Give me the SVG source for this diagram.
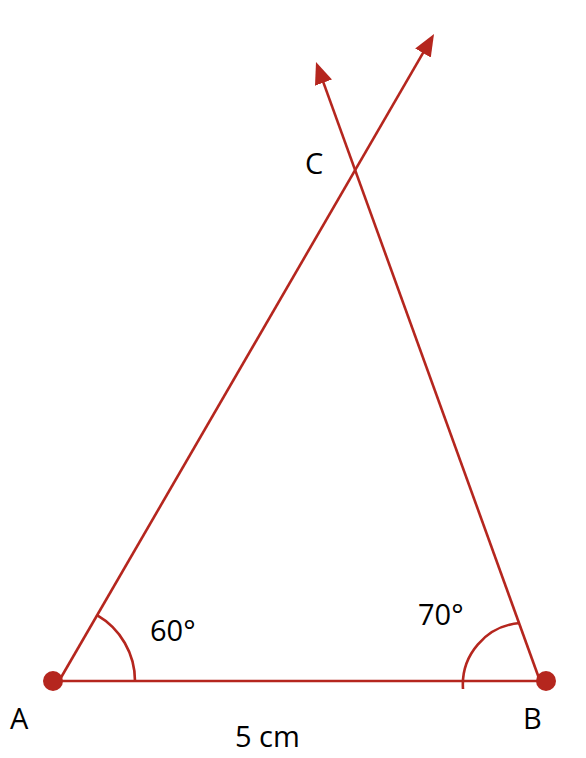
<svg xmlns="http://www.w3.org/2000/svg" width="586" height="758" viewBox="0 0 586 758">
<style>
.ln{stroke:#B5261E;stroke-width:2.6;fill:none}
.lbl{font-family:"Open Sans","Liberation Sans",sans-serif;font-size:29px;fill:#000}
.dot{fill:#B5261E}
</style>
<defs>
<marker id="arr" markerUnits="userSpaceOnUse" markerWidth="24" markerHeight="20" viewBox="0 -10 24 20" refX="12" refY="0" orient="auto">
<path d="M0,-9 L22,0 L0,9 z" fill="#B5261E"/>
</marker>
</defs>
<rect width="586" height="758" fill="#fff"/>
<g id="connectors">
<line class="ln" x1="53" y1="681" x2="546" y2="681"/>
<line class="ln" x1="59" y1="681" x2="429" y2="42.7" marker-end="url(#arr)"/>
<line class="ln" x1="540" y1="681" x2="319.4" y2="71.4" marker-end="url(#arr)"/>
<path class="ln" d="M135 681 A76 76 0 0 0 97 615.2"/>
<path class="ln" d="M463 689 A62 62 0 0 1 520 623"/>
</g>
<g id="A"><circle class="dot" cx="53" cy="681" r="10"/><text class="lbl" x="10" y="729">A</text></g>
<g id="B"><circle class="dot" cx="546" cy="681" r="10"/><text class="lbl" x="523" y="729">B</text></g>
<g id="C"><text class="lbl" x="305" y="174">C</text></g>
<g id="labels">
<text class="lbl" x="150" y="641">60°</text>
<text class="lbl" x="418" y="625">70°</text>
<text class="lbl" x="235" y="747">5 cm</text>
</g>
</svg>
